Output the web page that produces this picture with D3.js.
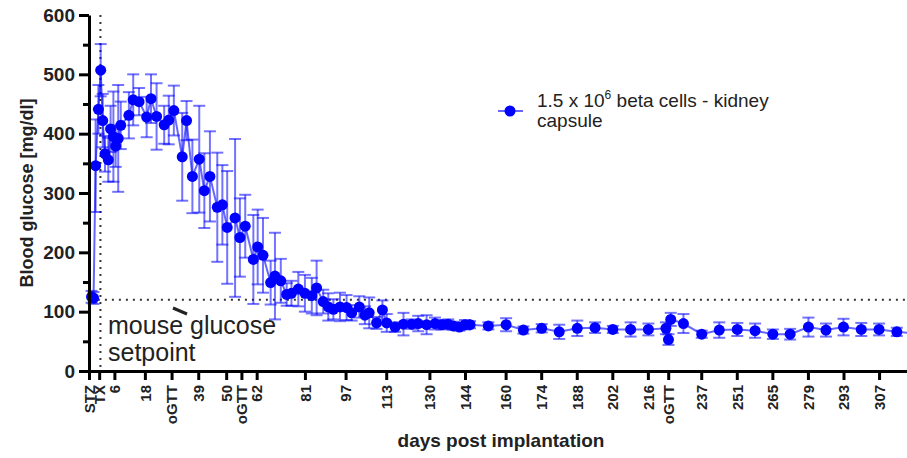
<!DOCTYPE html>
<meta charset="utf-8">
<script src="https://cdn.jsdelivr.net/npm/d3@7"></script>
<style>
  body { margin: 0; background: #fff; }
  svg { font-family: "Liberation Sans", Arial, sans-serif; }
</style>
<body>
<div id="viz"></div>
<script>
// days after transplantation (STZ ~ day -4, TX = day 0)
const days = [-3.0, -2.2, -1.4, -0.3, 0.6, 1.4, 2.3, 3.6, 4.5, 5.6, 6.5, 7.5, 8.5,
  11.7, 13.4, 15.7, 18.7, 20.4, 22.6, 25.6, 27.4, 29.4, 32.7, 34.4, 36.7, 39.4,
  41.4, 43.6, 46.5, 48.5, 50.4, 53.5, 55.4, 57.5, 60.7, 62.4, 64.5, 67.5, 69.2,
  71.5, 73.8, 75.7, 78.4, 81.0, 83.7, 85.6, 88.2, 90.2, 92.2, 94.8, 97.4, 99.4,
  102.4, 104.6, 106.3, 109.2, 111.5, 113.2, 116.5, 119.8, 123, 125.6, 128.9,
  132.2, 134.8, 137.4, 139.4, 141.8, 144, 146, 153.2, 160.2, 167, 174.2, 181.1,
  188.2, 195.2, 202.2, 209.2, 216.2, 223.1, 224.1, 225, 230, 237.2, 244.1, 251.2,
  258.2, 265.2, 272, 279.2, 286.1, 293, 300, 307, 314, 321];
const glucose = [125, 123, 346, 441, 507, 422, 366, 356, 408, 395, 379, 392, 414,
  431, 457, 454, 428, 459, 429, 415, 423, 439, 361, 422, 328, 357,
  304, 328, 276, 280, 242, 258, 225, 244, 188, 209, 195, 149, 160,
  152, 129, 131, 138, 131, 127, 140, 117, 108, 104, 108, 107, 98,
  108, 94, 98, 81, 103, 81, 74, 79, 79, 80, 78,
  80, 78, 79, 76, 74, 78, 78, 76, 78, 69, 72, 66,
  72, 73, 70, 70, 70, 72, 53, 87, 80, 62, 69, 70,
  68, 62, 62, 74, 69, 74, 70, 70, 66, 63];
const sem = [10, 10, 78, 41, 44, 45, 30, 37, 39, 76, 35, 90, 40,
  39, 43, 23, 34, 41, 56, 32, 41, 42, 74, 33, 62, 90,
  63, 76, 92, 67, 95, 133, 66, 53, 75, 63, 63, 37, 73,
  37, 19, 21, 29, 31, 30, 46, 20, 23, 17, 24, 21, 13,
  18, 15, 26, 10, 16, 15, 8, 19, 8, 13, 16,
  10, 8, 8, 7, 6, 8, 6, 6, 11, 6, 7, 12,
  13, 9, 6, 12, 10, 10, 9, 11, 16, 6, 13, 11,
  12, 8, 9, 16, 11, 14, 11, 10, 7, 5];

const xTickDays = [-4, 0, 6, 18, 28.5, 39, 50, 56, 62, 81, 97, 113, 130, 144, 160,
  174, 188, 202, 216, 224, 237, 251, 265, 279, 293, 307];
const xTickLabels = ["STZ", "TX", "6", "18", "oGTT", "39", "50", "oGTT", "62", "81",
  "97", "113", "130", "144", "160", "174", "188", "202", "216", "oGTT", "237",
  "251", "265", "279", "293", "307"];
const yTicks = [0, 100, 200, 300, 400, 500, 600];
const setpoint = 120;

const width = 907, height = 458;
const pLeft = 89, pRight = 907, pTop = 15, pBottom = 371;

const x = d3.scaleLinear().domain([-4, 318]).range([pLeft, pRight]);
const y = d3.scaleLinear().domain([0, 600]).range([pBottom, pTop]);

const svg = d3.select("#viz").append("svg")
  .attr("width", width)
  .attr("height", height);

svg.append("clipPath").attr("id", "plot")
  .append("rect")
  .attr("x", pLeft - 6).attr("y", 0)
  .attr("width", pRight - pLeft + 6).attr("height", pBottom);

const pts = days.map((d, i) => ({ d: d, v: glucose[i], e: sem[i] }));

// dotted reference lines
svg.append("line")
  .attr("x1", x(0.5)).attr("x2", x(0.5))
  .attr("y1", pTop).attr("y2", pBottom)
  .attr("stroke", "#333").attr("stroke-width", 2)
  .attr("stroke-dasharray", "2,5");

svg.append("line")
  .attr("x1", x(-0.5)).attr("x2", 905)
  .attr("y1", y(setpoint)).attr("y2", y(setpoint))
  .attr("stroke", "#333").attr("stroke-width", 2)
  .attr("stroke-dasharray", "2,5");

const g = svg.append("g").attr("clip-path", "url(#plot)");

// error bars
const eb = g.selectAll(".eb").data(pts).enter().append("g")
  .attr("stroke", "#0000ff").attr("stroke-opacity", 0.55).attr("stroke-width", 2);
eb.append("line")
  .attr("x1", p => x(p.d)).attr("x2", p => x(p.d))
  .attr("y1", p => y(p.v - p.e)).attr("y2", p => y(p.v + p.e));
eb.append("line")
  .attr("x1", p => x(p.d) - 6).attr("x2", p => x(p.d) + 6)
  .attr("y1", p => y(p.v + p.e)).attr("y2", p => y(p.v + p.e));
eb.append("line")
  .attr("x1", p => x(p.d) - 6).attr("x2", p => x(p.d) + 6)
  .attr("y1", p => y(p.v - p.e)).attr("y2", p => y(p.v - p.e));

// connecting line
g.append("path")
  .datum(pts)
  .attr("fill", "none")
  .attr("stroke", "#0000ff").attr("stroke-opacity", 0.6).attr("stroke-width", 2)
  .attr("d", d3.line().x(p => x(p.d)).y(p => y(p.v)));

g.selectAll("circle").data(pts).enter().append("circle")
  .attr("cx", p => x(p.d)).attr("cy", p => y(p.v))
  .attr("r", 5.5)
  .attr("fill", "#0000ff");

// y axis
const yAxis = svg.append("g")
  .attr("transform", `translate(${pLeft},0)`)
  .call(d3.axisLeft(y).tickValues(yTicks).tickSize(10).tickSizeOuter(0).tickPadding(4));
svg.append("g")
  .attr("transform", `translate(${pLeft},0)`)
  .call(d3.axisLeft(y).tickValues(d3.range(50, 600, 100)).tickSize(6).tickSizeOuter(0).tickFormat(""))
  .call(a => a.select(".domain").remove())
  .selectAll("line").attr("stroke-width", 3);
yAxis.select(".domain").attr("stroke-width", 3);
yAxis.selectAll("line").attr("stroke-width", 3);
yAxis.selectAll("text")
  .attr("font-size", 19).attr("font-weight", "bold")
  .attr("font-family", "Liberation Sans, Arial, sans-serif")
  .attr("fill", "#222");

// x axis
const xAxis = svg.append("g")
  .attr("transform", `translate(0,${pBottom})`)
  .call(d3.axisBottom(x).tickValues(xTickDays).tickSize(9).tickSizeOuter(0)
    .tickFormat((d, i) => xTickLabels[i]));
xAxis.select(".domain").attr("stroke-width", 3);
xAxis.selectAll("line").attr("stroke-width", 3);
xAxis.selectAll("text")
  .attr("font-size", 15).attr("font-weight", "bold")
  .attr("font-family", "Liberation Sans, Arial, sans-serif")
  .attr("fill", "#222")
  .attr("text-anchor", "end")
  .attr("dy", "0.35em")
  .attr("transform", "translate(0,5) rotate(-90)")
  .attr("x", -9).attr("y", 0);

// axis titles
svg.append("text")
  .attr("transform", `translate(33,${(pTop + pBottom) / 2}) rotate(-90)`)
  .attr("text-anchor", "middle")
  .attr("font-size", 18).attr("font-weight", "bold").attr("fill", "#222")
  .text("Blood glucose [mg/dl]");

svg.append("text")
  .attr("x", 501).attr("y", 447)
  .attr("text-anchor", "middle")
  .attr("font-size", 19).attr("font-weight", "bold").attr("fill", "#222")
  .text("days post implantation");

// annotation
svg.append("line")
  .attr("x1", 173).attr("y1", 308).attr("x2", 187).attr("y2", 314)
  .attr("stroke", "#222").attr("stroke-width", 3);
svg.append("text")
  .attr("x", 108).attr("y", 334)
  .attr("font-size", 25).attr("fill", "#222")
  .text("mouse glucose");
svg.append("text")
  .attr("x", 108).attr("y", 361)
  .attr("font-size", 25).attr("fill", "#222")
  .text("setpoint");

// legend
svg.append("line")
  .attr("x1", 498).attr("x2", 523).attr("y1", 111).attr("y2", 111)
  .attr("stroke", "#0000ff").attr("stroke-opacity", 0.6).attr("stroke-width", 2);
svg.append("circle")
  .attr("cx", 510).attr("cy", 111).attr("r", 5.5).attr("fill", "#0000ff");
const lt = svg.append("text")
  .attr("x", 537).attr("y", 107)
  .attr("font-size", 19).attr("fill", "#222");
lt.append("tspan").text("1.5 x 10");
lt.append("tspan").attr("font-size", 12).attr("dy", -8).text("6");
lt.append("tspan").attr("dy", 8).text(" beta cells - kidney");
svg.append("text")
  .attr("x", 537).attr("y", 127)
  .attr("font-size", 19).attr("fill", "#222")
  .text("capsule");
</script>
</body>
